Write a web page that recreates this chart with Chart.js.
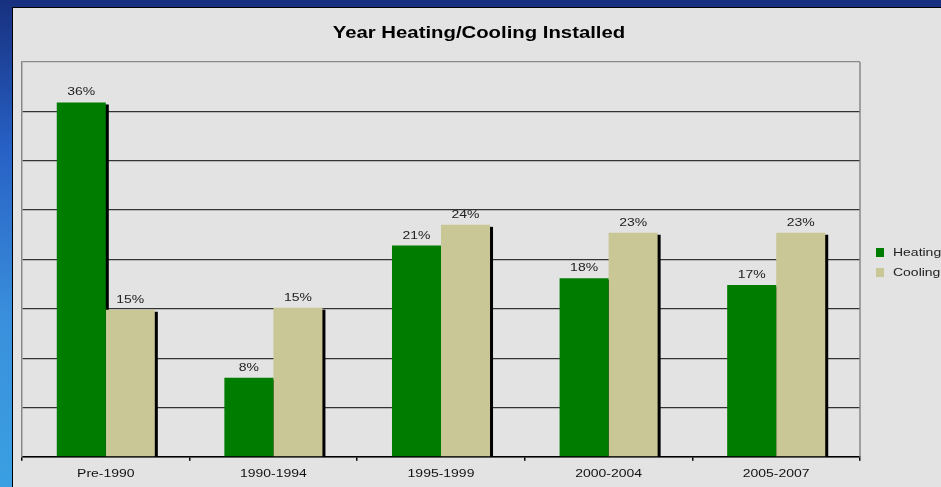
<!DOCTYPE html>
<html>
<head>
<meta charset="utf-8">
<script src="https://cdn.jsdelivr.net/npm/chart.js@4/dist/chart.umd.min.js"></script>
<style>
  html, body { margin: 0; padding: 0; }
  body {
    width: 941px; height: 487px; overflow: hidden; position: relative;
    background: linear-gradient(180deg, #17307f 0%, #2760c4 30%, #3a8fdc 65%, #3aa0e2 100%);
  }
  #wrap {
    position: absolute; left: 12px; top: 7px;
    border-left: 1px solid #000; border-top: 1px solid #000;
    width: 928px; height: 479px; background: #e3e3e3;
  }
</style>
</head>
<body>
<div id="wrap"><canvas id="heatChart" width="928" height="479"></canvas></div>
<script>
const categories = ['Pre-1990', '1990-1994', '1995-1999', '2000-2004', '2005-2007'];
const heating = [35.9, 8.0, 21.4, 18.1, 17.4];
const cooling = [14.9, 15.1, 23.5, 22.7, 22.7];
const seriesNames = ['Heating', 'Cooling'];
const title = 'Year Heating/Cooling Installed';

const FONT = 'Arial, "Liberation Sans", sans-serif';
const STRETCH = 1.27; // the original picture is a bit wider than tall

function wideText(ctx, text, x, y) {
    ctx.save();
    ctx.translate(x, y);
    ctx.scale(STRETCH, 1);
    ctx.fillText(text, 0, 0);
    ctx.restore();
}

// excel style drop shadow, labels, title and legend
const extras = {
    id: 'extras',
    beforeDatasetsDraw(chart) {
        const ctx = chart.ctx;
        ctx.save();
        ctx.fillStyle = '#000';
        chart.data.datasets.forEach((ds, i) => {
            chart.getDatasetMeta(i).data.forEach(bar => {
                const left = bar.x - bar.width / 2;
                ctx.fillRect(left + 2, bar.y + 2, bar.width + 1, bar.base - bar.y - 2);
            });
        });
        ctx.restore();
    },
    afterDatasetsDraw(chart) {
        const ctx = chart.ctx;
        const area = chart.chartArea;
        const xs = chart.scales.x;
        ctx.save();
        ctx.font = '11px ' + FONT;
        ctx.fillStyle = '#222';
        ctx.textAlign = 'center';
        ctx.textBaseline = 'alphabetic';
        chart.data.datasets.forEach((ds, i) => {
            chart.getDatasetMeta(i).data.forEach((bar, j) => {
                wideText(ctx, Math.round(ds.data[j]) + '%', bar.x, bar.y - 7);
            });
        });

        // category labels
        ctx.fillStyle = '#111';
        xs.ticks.forEach((t, i) => {
            wideText(ctx, chart.data.labels[i], xs.getPixelForTick(i), area.bottom + 20);
        });

        // right border of plot area
        ctx.strokeStyle = '#888';
        ctx.lineWidth = 1.5;
        ctx.beginPath();
        ctx.moveTo(area.right, area.top);
        ctx.lineTo(area.right, area.bottom);
        ctx.stroke();

        // title
        ctx.font = 'bold 16px ' + FONT;
        ctx.fillStyle = '#000';
        wideText(ctx, title, 466, 30);

        // legend
        ctx.font = '11px ' + FONT;
        ctx.textAlign = 'left';
        ctx.textBaseline = 'middle';
        chart.data.datasets.forEach((ds, i) => {
            const y = 244 + i * 20;
            ctx.fillStyle = ds.backgroundColor;
            ctx.fillRect(863, y - 4, 8, 9);
            ctx.fillStyle = '#222';
            wideText(ctx, ds.label, 880, y + 1);
        });
        ctx.restore();
    }
};

new Chart(document.getElementById('heatChart').getContext('2d'), {
    type: 'bar',
    data: {
        labels: categories,
        datasets: [
            { label: seriesNames[0], data: heating, backgroundColor: '#007c00' },
            { label: seriesNames[1], data: cooling, backgroundColor: '#c8c795' }
        ]
    },
    options: {
        responsive: false,
        animation: false,
        devicePixelRatio: 1,
        layout: { padding: { left: 9, right: 81, top: 54, bottom: 3 } },
        datasets: { bar: { categoryPercentage: 0.585, barPercentage: 1.0 } },
        scales: {
            x: {
                grid: { offset: true, drawOnChartArea: false, drawTicks: true, tickLength: 4, color: '#000', lineWidth: 1.5 },
                border: { display: true, color: '#000', width: 1.5 },
                ticks: { font: { family: FONT, size: 11 }, color: 'rgba(0,0,0,0)', padding: 5 }
            },
            y: {
                min: 0, max: 40,
                ticks: { display: false, stepSize: 5 },
                grid: {
                    drawTicks: false,
                    color: ctx => ctx.tick && ctx.tick.value === 40 ? '#888' : '#333',
                    lineWidth: 1.2
                },
                border: { display: true, color: '#888', width: 1.5 }
            }
        },
        plugins: {
            legend: { display: false },
            title: { display: false },
            tooltip: { enabled: false }
        }
    },
    plugins: [extras]
});
</script>
</body>
</html>
